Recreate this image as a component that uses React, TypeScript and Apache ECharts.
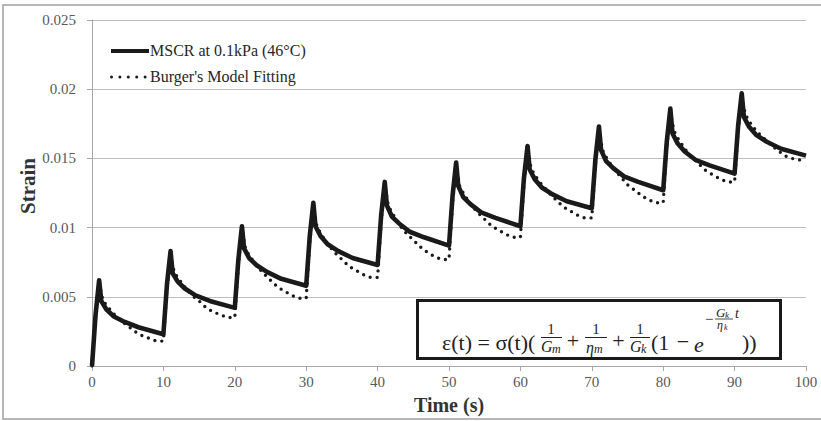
import { useEffect, useRef } from "react";
import * as echarts from "echarts";

// Cycle start times (s): 1 s creep + 9 s recovery per cycle
const CYCLE_STARTS = [0, 10, 20, 30, 40, 50, 60, 70, 80, 90];

// MSCR measured strain, sampled at these offsets within each cycle
const MSCR_OFFSETS = [0, 0.5, 1, 1.3, 2, 3, 4.5, 6.5];
const MSCR_CYCLES = [
  [0, 0.0037, 0.0062, 0.0047, 0.0041, 0.0036, 0.0032, 0.0028],
  [0.0023, 0.0059, 0.0083, 0.0067, 0.0061, 0.0056, 0.0051, 0.0047],
  [0.0042, 0.0077, 0.0101, 0.0085, 0.0078, 0.0073, 0.0068, 0.0063],
  [0.0058, 0.0094, 0.0118, 0.0101, 0.0094, 0.0088, 0.0083, 0.0078],
  [0.0073, 0.0109, 0.0133, 0.0116, 0.0108, 0.0103, 0.0097, 0.0093],
  [0.0087, 0.0123, 0.0147, 0.013, 0.0122, 0.0117, 0.0111, 0.0107],
  [0.0101, 0.0136, 0.0159, 0.0142, 0.0135, 0.0129, 0.0124, 0.0119],
  [0.0114, 0.0149, 0.0173, 0.0156, 0.0148, 0.0143, 0.0137, 0.0133],
  [0.0127, 0.0162, 0.0186, 0.0168, 0.0161, 0.0155, 0.0149, 0.0145],
  [0.0139, 0.0174, 0.0197, 0.018, 0.0173, 0.0167, 0.0162, 0.0157],
];
const MSCR_END = [100, 0.0152];

// Burger's model fit, sampled at these offsets within each cycle
const FIT_OFFSETS = [0, 0.5, 1, 1.5, 2, 3, 4, 5, 6, 7, 8, 9];
const FIT_CYCLES = [
  [0, 0.0036, 0.006, 0.0048, 0.0044, 0.0038, 0.0033, 0.0029, 0.0025, 0.0022, 0.002, 0.0018],
  [0.0018, 0.0056, 0.0081, 0.0068, 0.0064, 0.0057, 0.0051, 0.0047, 0.0042, 0.0039, 0.0037, 0.0035],
  [0.0035, 0.0073, 0.0099, 0.0085, 0.008, 0.0073, 0.0067, 0.0062, 0.0057, 0.0054, 0.0051, 0.0049],
  [0.0049, 0.0089, 0.0116, 0.0101, 0.0096, 0.0088, 0.0082, 0.0077, 0.0072, 0.0069, 0.0066, 0.0064],
  [0.0064, 0.0104, 0.0131, 0.0116, 0.0111, 0.0102, 0.0096, 0.0091, 0.0086, 0.0082, 0.0079, 0.0077],
  [0.0077, 0.0118, 0.0145, 0.013, 0.0125, 0.0117, 0.0111, 0.0106, 0.0101, 0.0098, 0.0095, 0.0093],
  [0.0093, 0.0131, 0.0157, 0.0143, 0.0138, 0.0131, 0.0125, 0.012, 0.0115, 0.0112, 0.0109, 0.0107],
  [0.0107, 0.0145, 0.0171, 0.0156, 0.0151, 0.0143, 0.0137, 0.0131, 0.0127, 0.0123, 0.012, 0.0118],
  [0.0118, 0.0158, 0.0184, 0.017, 0.0165, 0.0157, 0.0151, 0.0146, 0.0141, 0.0138, 0.0135, 0.0133],
  [0.0133, 0.017, 0.0195, 0.0182, 0.0177, 0.017, 0.0165, 0.016, 0.0156, 0.0152, 0.015, 0.0149],
];
const FIT_END = [100, 0.0148];

const SERIES_NAMES = ["MSCR at 0.1kPa (46°C)", "Burger's Model Fitting"];
const X_NAME = "Time (s)";
const Y_NAME = "Strain";
const X_RANGE = [0, 100, 10];
const Y_RANGE = [0, 0.025, 0.005];

function buildPoints(offsets: number[], cycles: number[][], end: number[]) {
  const pts: number[][] = [];
  CYCLE_STARTS.forEach((s, i) => {
    offsets.forEach((o, j) => pts.push([s + o, cycles[i][j]]));
  });
  pts.push(end);
  return pts;
}

const SERIF = "Liberation Serif";
const INK = "#1a1a1a";
const SOLID_STYLE = { color: INK, width: 4.6 };
const DOT_STYLE = { color: INK, width: 3.4, dash: [0, 7] };

function t(text: string, x: number, y: number, size: number, opts: any = {}) {
  return {
    type: "text",
    z: 101,
    x,
    y,
    style: {
      text,
      fontFamily: SERIF,
      fontSize: size,
      fontStyle: opts.italic ? "italic" : "normal",
      fill: opts.fill || "#222",
      align: opts.align || "left",
      verticalAlign: "middle",
    },
  };
}
function bar(x1: number, x2: number, y: number, w = 1) {
  return {
    type: "line",
    z: 101,
    shape: { x1, y1: y, x2, y2: y },
    style: { stroke: "#222", lineWidth: w },
  };
}

export default function App() {
  const ref = useRef<HTMLDivElement>(null);
  useEffect(() => {
    if (!ref.current) return;
    const chart = echarts.init(ref.current, null, { renderer: "svg" });
    const axisColor = "#a6a6a6";
    chart.setOption({
      animation: false,
      backgroundColor: "#ffffff",
      grid: { left: 92, right: 15, top: 20, bottom: 55, containLabel: false },
      xAxis: {
        type: "value",
        min: X_RANGE[0],
        max: X_RANGE[1],
        interval: X_RANGE[2],
        name: X_NAME,
        nameLocation: "middle",
        nameGap: 29,
        nameTextStyle: { fontFamily: SERIF, fontSize: 20, fontWeight: "bold", color: "#333" },
        axisLine: { show: true, lineStyle: { color: axisColor, width: 1 } },
        axisTick: { show: true, length: 5, lineStyle: { color: axisColor } },
        axisLabel: { color: "#595959", fontFamily: SERIF, fontSize: 15, margin: 8 },
        splitLine: { show: false },
      },
      yAxis: {
        type: "value",
        min: Y_RANGE[0],
        max: Y_RANGE[1],
        interval: Y_RANGE[2],
        axisLine: { show: true, lineStyle: { color: axisColor, width: 1 } },
        axisTick: { show: true, length: 5, lineStyle: { color: axisColor } },
        axisLabel: { color: "#595959", fontFamily: SERIF, fontSize: 15, margin: 16 },
        splitLine: { show: true, lineStyle: { color: "#bdbdbd", width: 1 } },
      },
      series: [
        {
          name: SERIES_NAMES[0],
          type: "line",
          data: buildPoints(MSCR_OFFSETS, MSCR_CYCLES, MSCR_END),
          symbol: "none",
          showSymbol: false,
          z: 3,
          lineStyle: { color: SOLID_STYLE.color, width: SOLID_STYLE.width, join: "round" },
        },
        {
          name: SERIES_NAMES[1],
          type: "line",
          data: buildPoints(FIT_OFFSETS, FIT_CYCLES, FIT_END),
          symbol: "none",
          showSymbol: false,
          z: 4,
          lineStyle: { color: DOT_STYLE.color, width: DOT_STYLE.width, type: DOT_STYLE.dash, cap: "round" },
        },
      ],
      graphic: [
        {
          type: "rect",
          z: 0,
          shape: { x: 3, y: 5, width: 900, height: 414 },
          style: { fill: "none", stroke: "#a0a0a0", lineWidth: 1.5 },
        },
        // legend
        {
          type: "line",
          z: 60,
          shape: { x1: 111, y1: 51, x2: 149, y2: 51 },
          style: { stroke: SOLID_STYLE.color, lineWidth: 3.8 },
        },
        t(SERIES_NAMES[0], 150, 50.5, 16, { fill: "#262626" }),
        {
          type: "line",
          z: 60,
          shape: { x1: 111.5, y1: 77, x2: 146, y2: 77 },
          style: { stroke: DOT_STYLE.color, lineWidth: 3, lineDash: [0, 8.4], lineCap: "round" },
        },
        t(SERIES_NAMES[1], 150, 76.5, 16, { fill: "#262626" }),
        {
          type: "text",
          z: 50,
          x: 28,
          y: 186,
          rotation: Math.PI / 2,
          style: {
            text: Y_NAME,
            fontFamily: SERIF,
            fontSize: 21,
            fontWeight: "bold",
            fill: "#333",
            align: "center",
            verticalAlign: "middle",
          },
        },
        // formula box
        {
          type: "rect",
          z: 100,
          shape: { x: 417.5, y: 300.5, width: 363, height: 58 },
          style: { fill: "#ffffff", stroke: INK, lineWidth: 3 },
        },
        t("ε(t) = σ(t)(", 442, 342, 22),
        // 1/Gm
        t("1", 551, 329, 15, { align: "center" }),
        bar(541, 562, 337.5),
        t("G", 541, 346, 16, { italic: true }),
        t("m", 552, 349, 12, { italic: true }),
        t("+", 573, 340, 22, { align: "center" }),
        // 1/ηm
        t("1", 596, 329, 15, { align: "center" }),
        bar(585, 607, 337.5),
        t("η", 586, 347, 16, { italic: true }),
        t("m", 594, 349, 12, { italic: true }),
        t("+", 618.5, 340, 22, { align: "center" }),
        // 1/Gk
        t("1", 640, 329, 15, { align: "center" }),
        bar(630, 650, 337.5),
        t("G", 630, 346, 16, { italic: true }),
        t("k", 641, 349, 12, { italic: true }),
        t("(1", 651, 342, 22),
        t("−", 683, 341, 22, { align: "center" }),
        t("e", 694, 344, 22, { italic: true }),
        // exponent
        t("−", 705, 319, 15),
        t("G", 716, 312, 13, { italic: true }),
        t("k", 725, 315, 9, { italic: true }),
        bar(715, 733, 319, 0.8),
        t("η", 717, 325, 12, { italic: true }),
        t("k", 724, 327.5, 8, { italic: true }),
        t("t", 735, 313, 14, { italic: true }),
        t("))", 742, 342, 22),
      ],
    });
    return () => chart.dispose();
  }, []);
  return (
    <div
      ref={ref}
      style={{ position: "absolute", left: 0, top: 0, width: 821, height: 421, background: "#fff" }}
    />
  );
}
